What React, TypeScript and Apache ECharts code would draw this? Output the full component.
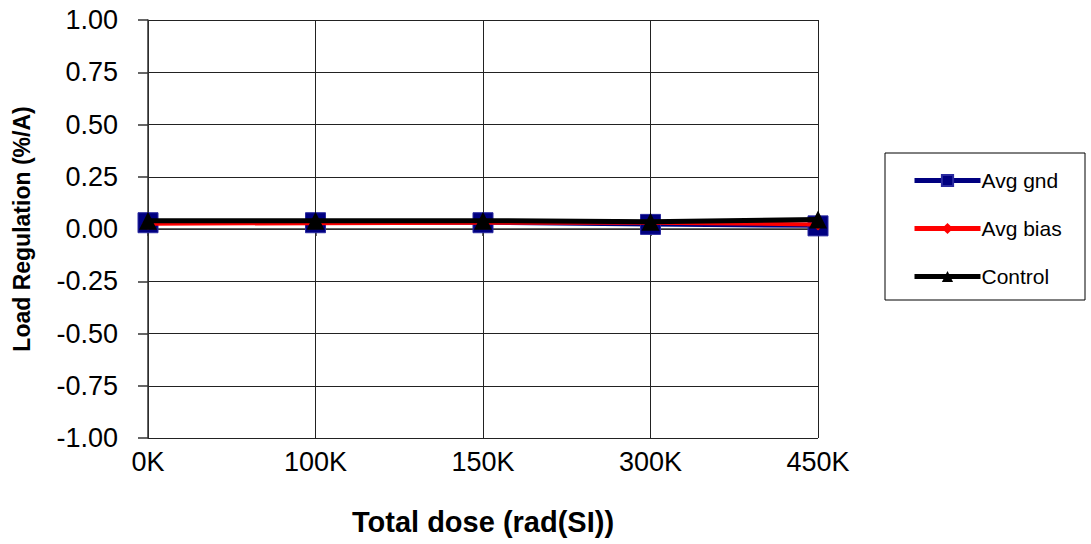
import React, { useEffect, useRef } from "react";
import * as echarts from "echarts";

const categories = ["0K", "100K", "150K", "300K", "450K"];
const avgGnd = [0.03, 0.03, 0.03, 0.022, 0.015];
const avgBias = [0.025, 0.028, 0.03, 0.03, 0.022];
const control = [0.04, 0.04, 0.04, 0.035, 0.045];
const yTicks = { min: -1, max: 1, interval: 0.25 };

export default function App() {
  const ref = useRef<HTMLDivElement>(null);
  useEffect(() => {
    const chart = echarts.init(ref.current!, null, { renderer: "svg" });
    const font = "'Liberation Sans', Arial, sans-serif";
    chart.setOption({
      animation: false,
      backgroundColor: "#ffffff",
      grid: { left: 148, right: 273, top: 20, bottom: 106, containLabel: false, outerBoundsMode: "none" },
      xAxis: {
        type: "category",
        data: categories,
        boundaryGap: false,
        name: "Total dose (rad(SI))",
        nameLocation: "middle",
        nameGap: 69,
        nameTextStyle: { fontFamily: font, fontSize: 29, fontWeight: "bold", color: "#000" },
        axisLine: { lineStyle: { color: "#333", width: 1.5 } },
        axisTick: { show: true, alignWithLabel: true, length: 7, lineStyle: { color: "#333", width: 1.5 } },
        axisLabel: { fontFamily: font, fontSize: 27, color: "#000", margin: 10 },
        splitLine: { show: true, lineStyle: { color: "#222", width: 1 } },
      },
      yAxis: {
        type: "value",
        min: yTicks.min,
        max: yTicks.max,
        interval: yTicks.interval,
        name: "Load Regulation (%/A)",
        nameLocation: "middle",
        nameGap: 115,
        nameRotate: 90,
        nameTextStyle: { fontFamily: font, fontSize: 23, fontWeight: "bold", color: "#000" },
        axisLine: { show: true, lineStyle: { color: "#333", width: 1.5 } },
        axisTick: { show: true, length: 10, lineStyle: { color: "#333", width: 1.5 } },
        axisLabel: {
          fontFamily: font,
          fontSize: 27,
          color: "#000",
          margin: 30,
          formatter: (v: number) => v.toFixed(2),
        },
        splitLine: { show: true, lineStyle: { color: "#222", width: 1 } },
      },
      legend: {
        orient: "vertical",
        left: 912,
        top: 170,
        padding: 0,
        itemWidth: 66,
        itemHeight: 14,
        itemGap: 27,
        textStyle: { fontFamily: font, fontSize: 21, color: "#000", padding: [0, 0, 0, -4] },
        lineStyle: { width: 5 },
        data: ["Avg gnd", "Avg bias", "Control"],
      },
      graphic: [
        {
          type: "rect",
          shape: { x: 885, y: 153, width: 200, height: 147 },
          style: { fill: "none", stroke: "#000", lineWidth: 1 },
          z: 0,
        },
      ],
      series: [
        {
          name: "Avg gnd",
          type: "line",
          data: avgGnd,
          symbol: "rect",
          symbolSize: 20,
          lineStyle: { color: "#000080", width: 4 },
          itemStyle: { color: "#000080", borderColor: "#2a2aa0", borderWidth: 1 },
          z: 2,
        },
        {
          name: "Avg bias",
          type: "line",
          data: avgBias,
          symbol: "diamond",
          symbolSize: 12,
          lineStyle: { color: "#ff0000", width: 4 },
          itemStyle: { color: "#ff0000" },
          z: 3,
        },
        {
          name: "Control",
          type: "line",
          data: control,
          symbol: "triangle",
          symbolSize: 18,
          lineStyle: { color: "#000000", width: 5 },
          itemStyle: { color: "#000000" },
          z: 4,
        },
      ],
    });
    return () => chart.dispose();
  }, []);
  return <div ref={ref} style={{ width: 1091, height: 544, position: "absolute", left: 0, top: 0 }} />;
}
